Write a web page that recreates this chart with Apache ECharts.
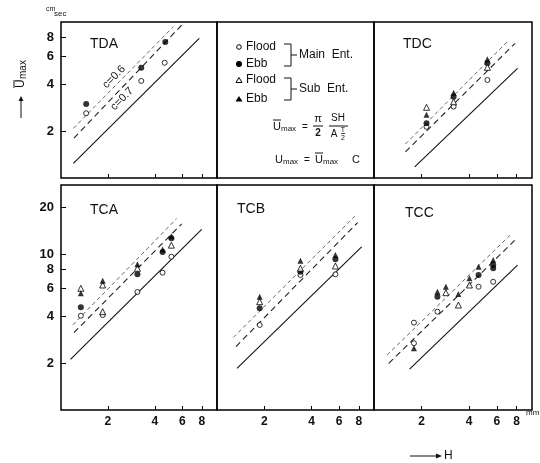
<!DOCTYPE html>
<html>
<head>
<meta charset="utf-8">
<script src="https://cdn.jsdelivr.net/npm/echarts@6/dist/echarts.min.js"></script>
<style>
  html, body { margin: 0; padding: 0; background: #fff; }
  #main { width: 540px; height: 463px; }
</style>
</head>
<body>
<div id="main"></div>
<script>
// tick values (H in mm, Umax in cm/sec)
var hTicks = [2, 4, 6, 8];
var uTicksTop = [2, 4, 6, 8];
var uTicksBottom = [2, 4, 6, 8, 10, 20];

// TDA
var tdaMainFlood = [[1.45, 2.60], [3.27, 4.19], [4.62, 5.48]];
var tdaMainEbb = [[1.45, 2.98], [3.27, 5.09], [4.66, 7.45]];
var tdaSolid = [[1.20, 1.24], [7.70, 7.86]];
var tdaC07 = [[1.21, 1.80], [6.03, 9.71]];
var tdaC06 = [[1.20, 2.08], [5.25, 9.33]];

// TDC
var tdcMainFlood = [[2.15, 2.13], [3.19, 2.87], [5.22, 4.25]];
var tdcMainEbb = [[2.15, 2.24], [3.19, 3.32], [5.22, 5.43]];
var tdcSubFlood = [[2.15, 2.84], [3.19, 3.08], [5.22, 5.12]];
var tdcSubEbb = [[2.15, 2.54], [3.19, 3.52], [5.22, 5.77]];
var tdcSolid = [[1.81, 1.18], [8.10, 5.05]];
var tdcC07 = [[1.58, 1.47], [7.82, 7.30]];
var tdcC06 = [[1.58, 1.65], [7.16, 7.67]];

// TCA
var tcaMainFlood = [[1.34, 4.02], [1.85, 4.06], [3.09, 5.71], [4.48, 7.59], [5.10, 9.61]];
var tcaMainEbb = [[1.34, 4.55], [3.09, 7.41], [4.48, 10.3], [5.10, 12.6]];
var tcaSubFlood = [[1.34, 6.03], [1.85, 6.33], [1.85, 4.27], [3.09, 8.10], [5.10, 11.4]];
var tcaSubEbb = [[1.34, 5.60], [1.85, 6.75], [3.09, 8.59], [4.48, 10.7], [5.10, 13.0]];
var tcaSolid = [[1.15, 2.11], [7.98, 14.4]];
var tcaC07 = [[1.21, 3.13], [5.94, 15.6]];
var tcaC06 = [[1.19, 3.51], [5.52, 16.9]];

// TCB
var tcbMainFlood = [[1.87, 3.51], [3.40, 7.34], [5.68, 7.41]];
var tcbMainEbb = [[1.87, 4.49], [3.40, 7.70], [5.68, 9.25]];
var tcbSubFlood = [[1.87, 4.95], [3.40, 8.10], [5.68, 8.38]];
var tcbSubEbb = [[1.87, 5.33], [3.40, 9.06], [5.68, 9.85]];
var tcbSolid = [[1.34, 1.85], [8.34, 11.1]];
var tcbC07 = [[1.32, 2.55], [7.86, 15.9]];
var tcbC06 = [[1.27, 2.92], [7.55, 17.5]];

// TCC
var tccMainFlood = [[1.79, 3.63], [1.79, 2.68], [2.52, 4.27], [4.59, 6.17], [5.68, 6.64]];
var tccMainEbb = [[2.52, 5.33], [4.59, 7.34], [5.68, 8.50], [5.68, 8.10]];
var tccSubFlood = [[2.85, 5.65], [3.42, 4.71], [4.02, 6.33]];
var tccSubEbb = [[1.79, 2.49], [2.52, 5.73], [2.85, 6.17], [3.42, 5.54], [4.02, 6.98], [4.59, 8.29], [5.68, 9.15]];
var tccSolid = [[1.68, 1.83], [8.10, 8.50]];
var tccC07 = [[1.24, 1.99], [7.82, 12.3]];
var tccC06 = [[1.21, 2.25], [7.26, 13.2]];

var FONT = '"Liberation Sans", Arial, sans-serif';

var panels = [
  { name: 'TDA', grid: { left: 61, top: 22, width: 156, height: 156 }, uMax: 10, uTicks: uTicksTop, xLab: false, yLab: true,
    lines: [tdaSolid, tdaC07, tdaC06], pts: [tdaMainFlood, tdaMainEbb, [], []] },
  { name: 'TDC', grid: { left: 374, top: 22, width: 158, height: 156 }, uMax: 10, uTicks: uTicksTop, xLab: false, yLab: false,
    lines: [tdcSolid, tdcC07, tdcC06], pts: [tdcMainFlood, tdcMainEbb, tdcSubFlood, tdcSubEbb] },
  { name: 'TCA', grid: { left: 61, top: 185, width: 156, height: 225 }, uMax: 27.7, uTicks: uTicksBottom, xLab: true, yLab: true,
    lines: [tcaSolid, tcaC07, tcaC06], pts: [tcaMainFlood, tcaMainEbb, tcaSubFlood, tcaSubEbb] },
  { name: 'TCB', grid: { left: 217, top: 185, width: 157, height: 225 }, uMax: 27.7, uTicks: uTicksBottom, xLab: true, yLab: false,
    lines: [tcbSolid, tcbC07, tcbC06], pts: [tcbMainFlood, tcbMainEbb, tcbSubFlood, tcbSubEbb] },
  { name: 'TCC', grid: { left: 374, top: 185, width: 158, height: 225 }, uMax: 27.7, uTicks: uTicksBottom, xLab: true, yLab: false,
    lines: [tccSolid, tccC07, tccC06], pts: [tccMainFlood, tccMainEbb, tccSubFlood, tccSubEbb] }
];

var lineStyles = [
  { color: '#111', width: 1.1, type: 'solid' },
  { color: '#222', width: 1.1, type: [6, 4] },
  { color: '#555', width: 0.9, type: [4, 3] }
];
var ptStyles = [
  { symbol: 'circle', symbolSize: 5, itemStyle: { color: '#fff', borderColor: '#000', borderWidth: 1 } },
  { symbol: 'circle', symbolSize: 6, itemStyle: { color: '#000' } },
  { symbol: 'triangle', symbolSize: 6, itemStyle: { color: '#fff', borderColor: '#000', borderWidth: 1 } },
  { symbol: 'triangle', symbolSize: 6, itemStyle: { color: '#000' } }
];

var grids = [], xAxes = [], yAxes = [], series = [];
panels.forEach(function (p, i) {
  grids.push(Object.assign({ show: true, borderColor: '#000', borderWidth: 1.5, containLabel: false }, p.grid));
  xAxes.push({
    gridIndex: i, type: 'log', logBase: 10, min: 1, max: 10,
    axisLine: { show: false }, splitLine: { show: false },
    axisTick: { show: true, inside: true, length: 4, customValues: hTicks, lineStyle: { color: '#000' } },
    axisLabel: { show: p.xLab, customValues: hTicks, formatter: function (v) { return String(Math.round(v)); },
      margin: 6, fontSize: 12, fontWeight: 'bold', color: '#111', fontFamily: FONT }
  });
  yAxes.push({
    gridIndex: i, type: 'log', logBase: 10, min: 1, max: p.uMax,
    axisLine: { show: false }, splitLine: { show: false },
    axisTick: { show: p.yLab, inside: true, length: 5, customValues: p.uTicks, lineStyle: { color: '#000' } },
    axisLabel: { show: p.yLab, customValues: p.uTicks, formatter: function (v) { return String(Math.round(v)); },
      margin: 7, fontSize: 13, fontWeight: 'bold', color: '#111', fontFamily: FONT }
  });
  p.lines.forEach(function (d, k) {
    series.push({ type: 'line', xAxisIndex: i, yAxisIndex: i, data: d, symbol: 'none', silent: true,
      lineStyle: lineStyles[k], z: 2 });
  });
  p.pts.forEach(function (d, k) {
    if (!d.length) return;
    series.push(Object.assign({ type: 'scatter', xAxisIndex: i, yAxisIndex: i, data: d, silent: true, z: 3 }, ptStyles[k]));
  });
});

function txt(x, y, s, size, extra) {
  return { type: 'text', x: x, y: y, silent: true,
    style: Object.assign({ text: s, font: (extra && extra.bold ? 'bold ' : '') + size + 'px ' + FONT, fill: '#111',
      verticalAlign: 'middle', textAlign: (extra && extra.align) || 'left' }) };
}
function seg(pts, w) {
  return { type: 'polyline', silent: true, shape: { points: pts }, style: { stroke: '#111', lineWidth: w || 1, fill: 'none' } };
}

var graphic = [
  { type: 'rect', silent: true, shape: { x: 217, y: 22, width: 157, height: 156 }, style: { fill: 'none', stroke: '#000', lineWidth: 1.5 } },
  txt(90, 44, 'TDA', 14), txt(403, 44, 'TDC', 14),
  txt(90, 210, 'TCA', 14), txt(237, 209, 'TCB', 14), txt(405, 213, 'TCC', 14),
  // c labels in TDA
  { type: 'text', x: 114, y: 77, rotation: Math.PI / 4, silent: true,
    style: { text: 'c=0.6', font: '11px ' + FONT, fill: '#111', textAlign: 'center', verticalAlign: 'middle' } },
  { type: 'text', x: 122, y: 99, rotation: Math.PI / 4, silent: true,
    style: { text: 'c=0.7', font: '11px ' + FONT, fill: '#111', textAlign: 'center', verticalAlign: 'middle' } },
  // legend symbols
  { type: 'circle', silent: true, shape: { cx: 239, cy: 47, r: 2.3 }, style: { fill: '#fff', stroke: '#000', lineWidth: 1 } },
  { type: 'circle', silent: true, shape: { cx: 239, cy: 64, r: 3 }, style: { fill: '#000' } },
  { type: 'polygon', silent: true, shape: { points: [[239, 77.5], [242, 82.5], [236, 82.5]] }, style: { fill: '#fff', stroke: '#000', lineWidth: 1 } },
  { type: 'polygon', silent: true, shape: { points: [[239, 96], [242.5, 101.5], [235.5, 101.5]] }, style: { fill: '#000' } },
  txt(246, 47, 'Flood', 12), txt(246, 64, 'Ebb', 12), txt(246, 80, 'Flood', 12), txt(246, 99, 'Ebb', 12),
  seg([[284, 44], [291, 44], [291, 66], [284, 66]]), seg([[291, 55], [297, 55]]),
  txt(299, 55, 'Main  Ent.', 12),
  seg([[284, 78], [291, 78], [291, 100], [284, 100]]), seg([[291, 89], [297, 89]]),
  txt(299, 89, 'Sub  Ent.', 12),
  // formula 1
  txt(273, 127, 'U', 11), txt(281, 129, 'max', 8), seg([[273, 120], [281, 120]]),
  txt(302, 127, '=', 10),
  txt(318, 119, 'π', 11, { align: 'center' }), seg([[313, 126], [323, 126]]), txt(318, 133, '2', 10, { align: 'center', bold: true }),
  txt(338, 118, 'SH', 10, { align: 'center' }), seg([[329, 126], [348, 126]]),
  txt(334, 134, 'A', 10, { align: 'center' }), txt(343, 130, 'T', 7, { align: 'center' }),
  seg([[341, 133.5], [345, 133.5]], 0.8), txt(343, 138, '2', 7, { align: 'center' }),
  // formula 2
  txt(275, 160, 'U', 11), txt(283, 162, 'max', 8),
  txt(304, 160, '=', 10),
  txt(315, 160, 'U', 11), txt(323, 162, 'max', 8), seg([[315, 153], [323, 153]]),
  txt(352, 160, 'C', 11),
  // y axis title (rotated)
  { type: 'group', x: 21, y: 88, rotation: Math.PI / 2, silent: true, children: [
    { type: 'text', x: 0, y: 0, style: { text: 'U', font: '12px ' + FONT, fill: '#111', verticalAlign: 'middle' } },
    { type: 'text', x: 9, y: 2, style: { text: 'max', font: '10px ' + FONT, fill: '#111', verticalAlign: 'middle' } },
    { type: 'line', shape: { x1: 0, y1: -7, x2: 8, y2: -7 }, style: { stroke: '#111', lineWidth: 1 } },
    { type: 'line', shape: { x1: -30, y1: 0, x2: -10, y2: 0 }, style: { stroke: '#111', lineWidth: 1 } },
    { type: 'polygon', shape: { points: [[-8, 0], [-13, -2.5], [-13, 2.5]] }, style: { fill: '#111' } }
  ] },
  // units
  txt(46, 9, 'cm', 7), txt(54, 14, 'sec', 8),
  txt(526, 413, 'mm', 8),
  // H arrow
  seg([[410, 456], [438, 456]]),
  { type: 'polygon', silent: true, shape: { points: [[442, 456], [436, 453.5], [436, 458.5]] }, style: { fill: '#111' } },
  txt(444, 456, 'H', 12)
];

var myChart = echarts.init(document.getElementById('main'), null, { renderer: 'canvas' });
myChart.setOption({
  animation: false,
  backgroundColor: '#fff',
  grid: grids,
  xAxis: xAxes,
  yAxis: yAxes,
  series: series,
  graphic: graphic
});
window.addEventListener('resize', function () { myChart.resize(); });
</script>
</body>
</html>
